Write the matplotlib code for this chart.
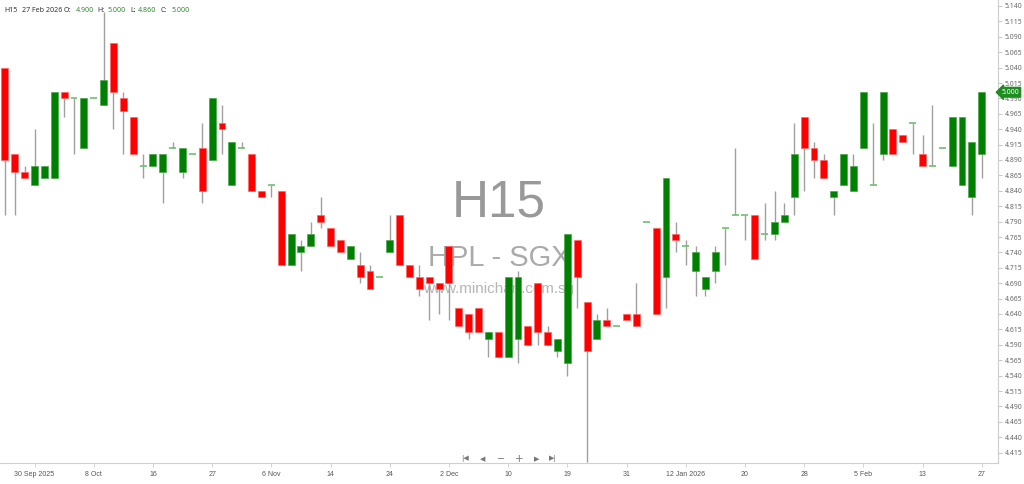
import matplotlib
matplotlib.use("Agg")
import matplotlib.pyplot as plt
import matplotlib.transforms as mtransforms
import numpy as np

# ---- data ----
opens = [5.04, 4.90, 4.87, 4.85, 4.86, 4.86, 5.00, 4.99, 4.91, 4.99,
         4.98, 5.08, 4.99, 4.96, 4.88, 4.88, 4.87, 4.91, 4.87, 4.90,
         4.91, 4.89, 4.95, 4.85, 4.91, 4.90, 4.84, 4.85, 4.84, 4.72,
         4.74, 4.75, 4.80, 4.78, 4.76, 4.73, 4.72, 4.71, 4.70, 4.74,
         4.80, 4.72, 4.70, 4.70, 4.69, 4.75, 4.65, 4.64, 4.65, 4.60,
         4.61, 4.57, 4.60, 4.62, 4.69, 4.61, 4.58, 4.56, 4.76, 4.66,
         4.60, 4.63, 4.62, 4.64, 4.64, 4.79, 4.78, 4.70, 4.77, 4.75,
         4.71, 4.68, 4.71, 4.78, 4.80, 4.80, 4.80, 4.77, 4.77, 4.79,
         4.83, 4.96, 4.91, 4.89, 4.83, 4.85, 4.84, 4.91, 4.85, 4.90,
         4.94, 4.93, 4.95, 4.90, 4.88, 4.91, 4.88, 4.85, 4.83, 4.90]
highs = [5.04, 4.90, 4.88, 4.94, 4.88, 5.00, 5.00, 4.99, 4.99, 4.99,
         5.13, 5.08, 5.00, 4.96, 4.90, 4.90, 4.90, 4.92, 4.91, 4.90,
         4.95, 4.99, 4.98, 4.92, 4.92, 4.90, 4.84, 4.85, 4.84, 4.77,
         4.76, 4.79, 4.83, 4.78, 4.76, 4.75, 4.74, 4.72, 4.70, 4.80,
         4.80, 4.72, 4.72, 4.70, 4.69, 4.75, 4.65, 4.64, 4.65, 4.61,
         4.61, 4.70, 4.71, 4.62, 4.69, 4.62, 4.60, 4.77, 4.76, 4.66,
         4.64, 4.65, 4.62, 4.64, 4.69, 4.79, 4.78, 4.86, 4.79, 4.76,
         4.75, 4.70, 4.75, 4.78, 4.91, 4.80, 4.80, 4.82, 4.84, 4.82,
         4.95, 4.96, 4.92, 4.90, 4.84, 4.90, 4.90, 5.00, 4.95, 5.00,
         4.94, 4.93, 4.95, 4.93, 4.98, 4.91, 4.96, 4.96, 4.92, 5.00]
lows = [4.80, 4.80, 4.86, 4.85, 4.86, 4.86, 4.96, 4.90, 4.91, 4.99,
        4.98, 4.94, 4.90, 4.90, 4.86, 4.88, 4.82, 4.91, 4.86, 4.90,
        4.82, 4.89, 4.90, 4.85, 4.91, 4.84, 4.83, 4.83, 4.72, 4.72,
        4.71, 4.75, 4.78, 4.75, 4.74, 4.73, 4.69, 4.68, 4.70, 4.74,
        4.72, 4.70, 4.67, 4.63, 4.64, 4.63, 4.62, 4.60, 4.61, 4.57,
        4.57, 4.57, 4.56, 4.59, 4.59, 4.59, 4.57, 4.54, 4.65, 4.40,
        4.60, 4.62, 4.62, 4.63, 4.62, 4.79, 4.64, 4.65, 4.74, 4.72,
        4.67, 4.67, 4.69, 4.72, 4.80, 4.76, 4.73, 4.76, 4.76, 4.79,
        4.80, 4.84, 4.86, 4.86, 4.80, 4.85, 4.84, 4.91, 4.85, 4.89,
        4.90, 4.92, 4.90, 4.88, 4.88, 4.91, 4.88, 4.85, 4.80, 4.86]
closes = [4.89, 4.87, 4.86, 4.88, 4.88, 5.00, 4.99, 4.99, 4.99, 4.99,
          5.02, 5.00, 4.97, 4.90, 4.88, 4.90, 4.90, 4.91, 4.91, 4.90,
          4.84, 4.99, 4.94, 4.92, 4.91, 4.84, 4.83, 4.85, 4.72, 4.77,
          4.75, 4.77, 4.79, 4.75, 4.74, 4.75, 4.70, 4.68, 4.70, 4.76,
          4.72, 4.70, 4.68, 4.69, 4.68, 4.69, 4.62, 4.61, 4.61, 4.61,
          4.57, 4.70, 4.70, 4.59, 4.61, 4.59, 4.60, 4.77, 4.70, 4.58,
          4.63, 4.62, 4.62, 4.63, 4.62, 4.79, 4.64, 4.86, 4.76, 4.75,
          4.74, 4.70, 4.74, 4.78, 4.80, 4.80, 4.73, 4.77, 4.79, 4.80,
          4.90, 4.91, 4.89, 4.86, 4.84, 4.90, 4.88, 5.00, 4.85, 5.00,
          4.90, 4.92, 4.95, 4.88, 4.88, 4.91, 4.96, 4.96, 4.92, 5.00]

date_labels = ["30 Sep 2025", "8 Oct", "16", "27", "6 Nov", "14", "24", "2 Dec",
               "10", "19", "31", "12 Jan 2026", "20", "28", "5 Feb", "13", "27"]
date_label_pos = list(range(3, 100, 6))

y_ticks = [round(4.415 + 0.025 * k, 3) for k in range(30)]

last_close = closes[-1]

plt.rcParams["font.family"] = ["Noto Sans", "DejaVu Sans"]

# ---- figure ----
W, H = 1024, 484
fig = plt.figure(figsize=(W / 100, H / 100), dpi=100)
ax = fig.add_axes([0, 21 / H, 998 / W, 463 / H])

GREEN = "#008000"
RED = "#ff0000"
WICK = "#a0a0a0"
DOJI = "#6fbf6f"

x = np.arange(len(opens))
o = np.array(opens); c = np.array(closes)
h = np.array(highs); l = np.array(lows)

ax.vlines(x, l, h, color=WICK, linewidth=1.0, zorder=2)

up = c > o
dn = c < o
eq = c == o
bw = 0.7
ax.bar(x[up], (c - o)[up], bottom=o[up], width=bw, color=GREEN,
       edgecolor="#4da64d", linewidth=0.5, zorder=3)
ax.bar(x[dn], (o - c)[dn], bottom=c[dn], width=bw, color=RED,
       edgecolor="#ff6666", linewidth=0.5, zorder=3)
ax.hlines(o[eq], x[eq] - bw / 2, x[eq] + bw / 2, color=DOJI, linewidth=1.2, zorder=3)

# axis limits matching pixel layout
px_per_unit = 616.0
ymax = 5.140 + 6 / px_per_unit
ymin = 5.140 - (463 - 6) / px_per_unit
ax.set_ylim(ymin, ymax)
ax.set_xlim(-0.5, 100.65)

# y axis on right
ax.yaxis.tick_right()
ax.set_yticks(y_ticks)
ax.set_yticklabels([f"{v:.3f}" for v in y_ticks])
ax.tick_params(axis="y", direction="out", length=3, width=0.6, color="#bbbbbb",
               labelsize=4.9, labelcolor="#666666", pad=2)
ax.set_xticks(date_label_pos)
ax.set_xticklabels(date_labels, family=["Liberation Sans", "DejaVu Sans"])
ax.tick_params(axis="x", direction="out", length=3, width=0.6, color="#cccccc",
               labelsize=5.0, labelcolor="#555555", pad=6.5)
for lbl in ax.get_xticklabels():
    lbl.set_verticalalignment("baseline")

for s in ["top", "left"]:
    ax.spines[s].set_visible(False)
ax.spines["right"].set_color("#cccccc")
ax.spines["right"].set_linewidth(0.8)
ax.spines["bottom"].set_color("#d0d0d0")
ax.spines["bottom"].set_linewidth(0.8)

# last price tag
trans = mtransforms.blended_transform_factory(ax.transAxes, ax.transData)
ax.text(1.0035, last_close, f"{last_close:.3f}", transform=trans, fontsize=4.9,
        color="white", fontweight="bold", va="center", ha="left", zorder=10,
        bbox=dict(boxstyle="larrow,pad=0.2", fc="#1e8c1e", ec="#1e8c1e"),
        clip_on=False)

# watermark
wm_font = ["Liberation Sans", "DejaVu Sans"]
ax.text(0.5, 1 - 203 / 463, "H15", transform=ax.transAxes, fontsize=37,
        family=wm_font, color="#999999", ha="center", va="center", zorder=1)
ax.text(0.5, 1 - 258 / 463, "HPL - SGX", transform=ax.transAxes, fontsize=21,
        family=wm_font, color="#aaaaaa", ha="center", va="center", zorder=1)
ax.text(0.5, 1 - 289 / 463, "www.minichart.com.sg", transform=ax.transAxes,
        family=wm_font, fontsize=11, color="#b5b5b5", ha="center", va="center", zorder=1)

# header line
hy = 1 - 10 / H
hdr = [(4, "H15", "#333333"), (22, "27 Feb 2026", "#333333"), (64, "O:", "#333333"),
       (76, f"{opens[-1]:.3f}", "#2e8b2e"), (97, "H:", "#333333"),
       (108, f"{highs[-1]:.3f}", "#2e8b2e"), (130, "L:", "#333333"),
       (138, f"{lows[-1]:.3f}", "#2e8b2e"), (161, "C:", "#333333"),
       (172, f"{closes[-1]:.3f}", "#2e8b2e")]
for px, txt, col in hdr:
    fig.text(px / W, hy, txt, fontsize=5.1, color=col, ha="left", va="center")

# navigation controls
ny = 1 - 459 / H
nav_col = "#777777"
nav_font = ["DejaVu Sans"]
fig.text(465 / W, ny, "|◀", fontsize=5, family=nav_font, color=nav_col, ha="center", va="center")
fig.text(483 / W, ny, "◀", fontsize=5, family=nav_font, color=nav_col, ha="center", va="center")
fig.text(501 / W, ny, "−", fontsize=7, family=nav_font, color=nav_col, ha="center", va="center")
fig.text(519 / W, ny, "+", fontsize=7.5, family=nav_font, color=nav_col, ha="center", va="center")
fig.text(537 / W, ny, "▶", fontsize=5, family=nav_font, color=nav_col, ha="center", va="center")
fig.text(553 / W, ny, "▶|", fontsize=5, family=nav_font, color=nav_col, ha="center", va="center")

fig.savefig("out.png", dpi=100, facecolor="white")
